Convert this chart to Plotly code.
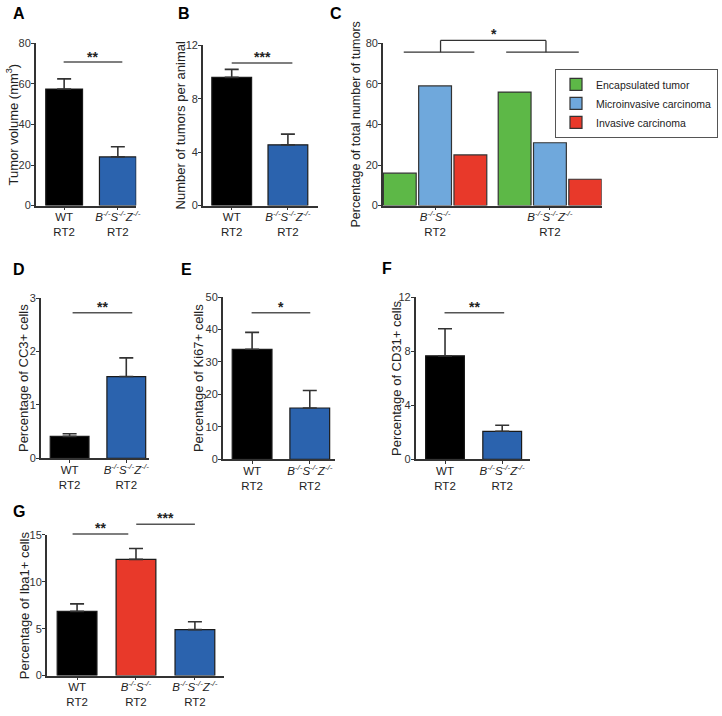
import plotly.graph_objects as go

W, H = 722, 716
FONT = "Liberation Sans, Arial, Helvetica, sans-serif"

# ---------------- data ----------------
two_groups = ["WT", "BSZ"]
three_groups = ["WT", "BS", "BSZ"]
c_groups = ["BS", "BSZ"]

tumor_volume = [57.5, 24.0]
tumor_volume_err = [5.0, 5.0]

tumors_per_animal = [9.6, 4.55]
tumors_per_animal_err = [0.6, 0.8]

encapsulated = [16, 56]
microinvasive = [59, 31]
invasive = [25, 13]

cc3 = [0.41, 1.53]
cc3_err = [0.05, 0.35]

ki67 = [33.9, 15.8]
ki67_err = [5.2, 5.4]

cd31 = [7.65, 2.07]
cd31_err = [2.0, 0.45]

iba1 = [6.85, 12.4, 4.9]
iba1_err = [0.8, 1.15, 0.85]

tick_text = {
    "WT": "WT<br>RT2",
    "BS": "<i>B<sup>-/-</sup>S<sup>-/-</sup></i><br>RT2",
    "BSZ": "<i>B<sup>-/-</sup>S<sup>-/-</sup>Z<sup>-/-</sup></i><br>RT2",
}
bar_colors = {"WT": "#000000", "BS": "#E8392A", "BSZ": "#2B63AE"}
c_colors = {"Encapsulated tumor": "#5DB847",
            "Microinvasive carcinoma": "#6FA8DC",
            "Invasive carcinoma": "#E8392A"}


def xp(px):
    return px / W


def yp(py):
    return 1 - py / H


fig = go.Figure()
AXCOL = "#333333"

# panel geometry (pixel boxes)
panels = [
    dict(letter="A", cats=two_groups, vals=tumor_volume, err=tumor_volume_err,
         L=36, R=137, top=38, bot=203, c0=64.5, pitch=54, bw=37, ymax=80, dtick=20,
         title="Tumor volume (mm<sup>3</sup>)", tx=13, lx=19, ly=8),
    dict(letter="B", cats=two_groups, vals=tumors_per_animal, err=tumors_per_animal_err,
         L=204, R=320, top=40, bot=203, c0=233, pitch=56.5, bw=40, ymax=12, dtick=4,
         title="Number of tumors per animal", tx=181, lx=185, ly=8),
    dict(letter="C", cats=c_groups, vals=None, err=None,
         L=385, R=605, top=38, bot=203, c0=437.5, pitch=115.5, bw=None, ymax=80, dtick=20,
         title="Percentage of total number of tumors", tx=358, lx=338, ly=8),
    dict(letter="D", cats=two_groups, vals=cc3, err=cc3_err,
         L=41, R=150, top=297, bot=460, c0=70, pitch=57, bw=39, ymax=3, dtick=1,
         title="Percentage of CC3+ cells", tx=23, lx=19, ly=268),
    dict(letter="E", cats=two_groups, vals=ki67, err=ki67_err,
         L=224, R=337, top=296, bot=461, c0=253.5, pitch=58, bw=40, ymax=50, dtick=10,
         title="Percentage of Ki67+ cells", tx=199, lx=188, ly=268),
    dict(letter="F", cats=two_groups, vals=cd31, err=cd31_err,
         L=418, R=533, top=296, bot=461, c0=447.5, pitch=57.5, bw=39, ymax=12, dtick=4,
         title="Percentage of CD31+ cells", tx=398, lx=389, ly=267),
    dict(letter="G", cats=three_groups, vals=iba1, err=iba1_err,
         L=47, R=225, top=538, bot=681, c0=77.5, pitch=59.25, bw=40, ymax=15, dtick=5,
         title="Percentage of Iba1+ cells", tx=24, lx=19, ly=514),
]

annotations = []
shapes = []

for i, p in enumerate(panels):
    n = i + 1
    xa = "x" if n == 1 else f"x{n}"
    ya = "y" if n == 1 else f"y{n}"
    xkey = "xaxis" if n == 1 else f"xaxis{n}"
    ykey = "yaxis" if n == 1 else f"yaxis{n}"
    pos = list(range(len(p["cats"])))

    if p["letter"] == "C":
        for name, vals in [("Encapsulated tumor", encapsulated),
                           ("Microinvasive carcinoma", microinvasive),
                           ("Invasive carcinoma", invasive)]:
            fig.add_trace(go.Bar(
                x=pos, y=vals, name=name, xaxis=xa, yaxis=ya,
                marker=dict(color=c_colors[name], line=dict(color="#333333", width=1.2)),
                showlegend=True))
    else:
        fig.add_trace(go.Bar(
            x=pos, y=p["vals"], xaxis=xa, yaxis=ya, showlegend=False,
            width=p["bw"] / p["pitch"],
            marker=dict(color=[bar_colors[c] for c in p["cats"]],
                        line=dict(color="#1a1a1a", width=1.2)),
            error_y=dict(type="data", symmetric=False, array=p["err"],
                         arrayminus=[0] * len(p["err"]),
                         color="#333333", thickness=1.6, width=7),
        ))

    xr0 = (p["L"] - p["c0"]) / p["pitch"]
    xr1 = (p["R"] - p["c0"]) / p["pitch"]
    fig.layout[xkey] = dict(
        domain=[xp(p["L"]), xp(p["R"])], anchor=ya, range=[xr0, xr1],
        tickmode="array", tickvals=pos, ticktext=[tick_text[c] for c in p["cats"]],
        showline=True, linecolor=AXCOL, linewidth=1.5, ticks="outside", ticklen=3,
        tickcolor=AXCOL, tickwidth=1.2, showgrid=False, zeroline=False,
        ticklabelstandoff=-3,
        tickfont=dict(family=FONT, size=11.5, color="#222222"), fixedrange=True)
    fig.layout[ykey] = dict(
        domain=[yp(p["bot"]), yp(p["top"])], anchor=xa, range=[0, p["ymax"]],
        tickmode="linear", tick0=0, dtick=p["dtick"],
        showline=True, linecolor=AXCOL, linewidth=1.5, ticks="outside", ticklen=3,
        tickcolor=AXCOL, tickwidth=1.2, showgrid=False, zeroline=False,
        ticklabelstandoff=-2,
        tickfont=dict(family=FONT, size=11, color="#333333"), fixedrange=True)

    annotations.append(dict(
        text=p["title"], textangle=-90, x=xp(p["tx"]), y=yp((p["top"] + p["bot"]) / 2),
        xref="paper", yref="paper", showarrow=False, xanchor="center", yanchor="middle",
        font=dict(family=FONT, size=13 if p["letter"] != "C" else 12.5, color="#222222")))
    annotations.append(dict(
        text=f"<b>{p['letter']}</b>", x=xp(p["lx"]), y=yp(p["ly"]),
        xref="paper", yref="paper", showarrow=False, xanchor="center", yanchor="middle",
        font=dict(family=FONT, size=16, color="#000000")))

# significance marks (pixel positions)
sig_lines = [
    (64, 123, 57, "**", 52),
    (233, 294, 58, "***", 52),
    (73, 133, 312, "**", 306),
    (253, 312, 312, "*", 306),
    (447, 507, 312, "**", 306),
    (73, 129, 537, "**", 531),
    (137, 196, 527, "***", 521),
]
LINECOL = "#555555"
for x0, x1, y, stars, sy in sig_lines:
    shapes.append(dict(type="line", xref="paper", yref="paper",
                       x0=xp(x0), x1=xp(x1), y0=yp(y), y1=yp(y),
                       line=dict(color=LINECOL, width=1.5)))
    annotations.append(dict(text=f"<b>{stars}</b>", x=xp((x0 + x1) / 2), y=yp(sy),
                            xref="paper", yref="paper", showarrow=False,
                            xanchor="center", yanchor="middle",
                            font=dict(family=FONT, size=14, color="#222222")))

# panel C bracket
for seg in [(406, 47, 477, 47), (509, 47, 582, 47), (443, 47, 443, 35),
            (443, 35, 549, 35), (549, 35, 549, 47)]:
    shapes.append(dict(type="line", xref="paper", yref="paper",
                       x0=xp(seg[0]), y0=yp(seg[1]), x1=xp(seg[2]), y1=yp(seg[3]),
                       line=dict(color="#333333", width=1.3)))
annotations.append(dict(text="<b>*</b>", x=xp(497), y=yp(28), xref="paper", yref="paper",
                        showarrow=False, xanchor="center", yanchor="middle",
                        font=dict(family=FONT, size=14, color="#222222")))

fig.update_layout(
    width=W, height=H, margin=dict(l=0, r=0, t=0, b=0),
    paper_bgcolor="white", plot_bgcolor="white",
    font=dict(family=FONT, size=12, color="#222222"),
    barmode="group", bargap=0.078, bargroupgap=0.07,
    showlegend=True,
    legend=dict(x=1, y=yp(64), xanchor="right", yanchor="top",
                bordercolor="#555555", borderwidth=1, bgcolor="white",
                font=dict(family=FONT, size=10.5, color="#222222"),
                itemwidth=30, tracegroupgap=0),
    annotations=annotations, shapes=shapes,
)

fig.write_html("out.html", config={"displayModeBar": False},
               post_script="document.body.style.margin='0px';document.body.style.padding='0px';")
